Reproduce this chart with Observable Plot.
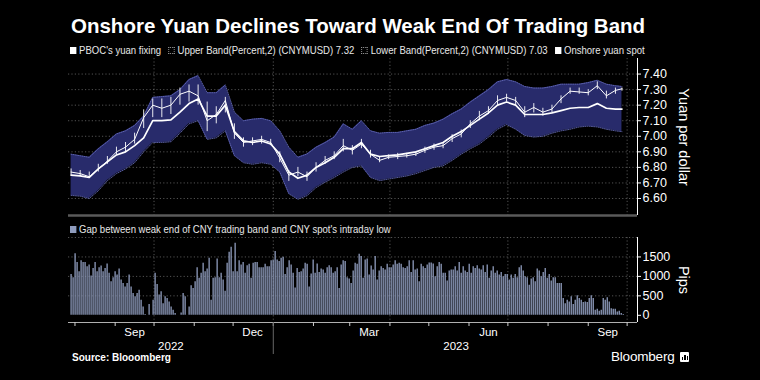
<!DOCTYPE html>
<html><head><meta charset="utf-8">
<script src="https://cdn.jsdelivr.net/npm/d3@7"></script>
<script src="https://cdn.jsdelivr.net/npm/@observablehq/plot@0.6"></script>
<style>
html,body{margin:0;padding:0;background:#000;}
#wrap{position:relative;width:760px;height:380px;overflow:hidden;background:#000;font-family:"Liberation Sans",Arial,sans-serif;color:#fff;}
.abs{position:absolute;}
#title{left:71px;top:14px;font-size:20.5px;font-weight:bold;white-space:nowrap;}
.legend{font-size:10.5px;color:#e8e8e8;white-space:nowrap;display:flex;align-items:center;height:14px;transform:scaleX(0.91);transform-origin:0 50%;}
.item{display:inline-flex;align-items:center;margin-right:8px;}
.sw{display:inline-block;width:7px;height:7px;margin-right:3px;box-sizing:border-box;}
.solid{background:#fff;}
.hollow{border:1px dotted #9a9a9a;}
#source{left:72px;top:352px;font-size:10px;font-weight:bold;color:#fff;}
#logo{left:611px;top:349px;font-size:13.5px;color:#fff;display:flex;align-items:center;letter-spacing:-0.2px;}
#logo .ic{display:inline-block;width:9px;height:10px;margin-left:5px;background:#fff;border-radius:1px;position:relative;}
#logo .ic i{position:absolute;bottom:2px;width:1.5px;background:#000;}
</style></head>
<body><div id="wrap">
<div id="title" class="abs">Onshore Yuan Declines Toward Weak End Of Trading Band</div>
<div id="leg1" class="abs legend" style="left:70px;top:43px;">
  <span class="item"><span class="sw solid"></span>PBOC's yuan fixing</span>
  <span class="item"><span class="sw hollow"></span>Upper Band(Percent,2) (CNYMUSD) 7.32</span>
  <span class="item"><span class="sw hollow"></span>Lower Band(Percent,2) (CNYMUSD) 7.03</span>
  <span class="item"><span class="sw solid"></span>Onshore yuan spot</span>
</div>
<div id="top" class="abs" style="left:0;top:58px;"></div>
<div id="leg2" class="abs legend" style="left:70px;top:222px;">
  <span class="item"><span class="sw" style="background:#8f9cbd"></span>Gap between weak end of CNY trading band and CNY spot's intraday low</span>
</div>
<div id="bottom" class="abs" style="left:0;top:234px;"></div>
<div id="source" class="abs">Source: Blooomberg</div>
<div id="logo" class="abs">Bloomberg<span class="ic"><i style="left:2px;height:3px"></i><i style="left:4.5px;height:5px"></i><i style="left:7px;height:4px;width:1px"></i></span></div>
</div>
<script>
// ---- data ----
const weekDates = ["2022-07-29","2022-08-05","2022-08-12","2022-08-19","2022-08-26","2022-09-02","2022-09-09","2022-09-16","2022-09-23","2022-09-30","2022-10-07","2022-10-14","2022-10-21","2022-10-28","2022-11-04","2022-11-11","2022-11-18","2022-11-25","2022-12-02","2022-12-09","2022-12-16","2022-12-23","2022-12-30","2023-01-06","2023-01-13","2023-01-20","2023-01-27","2023-02-03","2023-02-10","2023-02-17","2023-02-24","2023-03-03","2023-03-10","2023-03-17","2023-03-24","2023-03-31","2023-04-07","2023-04-14","2023-04-21","2023-04-28","2023-05-05","2023-05-12","2023-05-19","2023-05-26","2023-06-02","2023-06-09","2023-06-16","2023-06-23","2023-06-30","2023-07-07","2023-07-14","2023-07-21","2023-07-28","2023-08-04","2023-08-11","2023-08-18","2023-08-25","2023-09-01","2023-09-08","2023-09-15","2023-09-22","2023-09-27"];
const upperBand = [6.885,6.875,6.865,6.92,6.965,7.015,7.035,7.07,7.13,7.25,7.255,7.26,7.30,7.365,7.39,7.28,7.28,7.33,7.155,7.10,7.11,7.115,7.10,7.035,6.93,6.865,6.886,6.93,6.96,6.995,7.08,7.045,7.10,7.035,7.02,7.025,7.025,7.035,7.045,7.07,7.085,7.11,7.145,7.175,7.22,7.26,7.30,7.35,7.365,7.35,7.32,7.31,7.31,7.32,7.335,7.335,7.335,7.345,7.36,7.335,7.325,7.32];
const lowerBand = [6.62,6.615,6.60,6.65,6.715,6.76,6.79,6.83,6.90,6.96,6.96,6.965,7.02,7.08,7.10,6.98,6.99,7.035,6.875,6.83,6.82,6.83,6.82,6.77,6.63,6.595,6.618,6.67,6.705,6.735,6.77,6.80,6.81,6.735,6.715,6.725,6.735,6.745,6.76,6.78,6.80,6.81,6.845,6.885,6.92,6.95,6.995,7.045,7.075,7.045,7.005,6.995,7.00,7.02,7.035,7.045,7.06,7.065,7.06,7.045,7.035,7.03];
const fixing = [6.75,6.745,6.735,6.79,6.835,6.88,6.90,6.94,6.99,7.10,7.10,7.105,7.155,7.21,7.24,7.13,7.13,7.20,7.03,6.97,6.96,6.97,6.95,6.885,6.77,6.73,6.75,6.80,6.83,6.865,6.92,6.92,6.96,6.885,6.87,6.875,6.88,6.89,6.90,6.92,6.94,6.96,7.00,7.03,7.07,7.11,7.15,7.20,7.22,7.20,7.14,7.14,7.14,7.15,7.165,7.18,7.185,7.185,7.21,7.18,7.175,7.175];
const spot = [6.77,6.76,6.74,6.79,6.84,6.90,6.93,6.98,7.12,7.20,7.18,7.20,7.27,7.29,7.26,7.10,7.14,7.23,7.02,6.96,6.97,6.98,6.96,6.86,6.75,6.77,6.74,6.80,6.845,6.875,6.94,6.91,6.95,6.885,6.845,6.865,6.87,6.875,6.885,6.91,6.93,6.94,6.985,7.015,7.08,7.13,7.165,7.23,7.25,7.23,7.155,7.185,7.155,7.175,7.24,7.29,7.285,7.28,7.325,7.26,7.295,7.305];
const spotHigh = [6.79,6.78,6.77,6.82,6.87,6.93,6.96,7.02,7.17,7.24,7.24,7.25,7.31,7.33,7.33,7.22,7.19,7.25,7.08,6.99,6.99,7.00,6.98,6.90,6.78,6.80,6.77,6.83,6.87,6.90,6.98,6.94,6.98,6.91,6.87,6.88,6.89,6.89,6.90,6.93,6.95,6.96,7.01,7.04,7.10,7.16,7.19,7.26,7.27,7.25,7.19,7.21,7.18,7.20,7.26,7.31,7.31,7.30,7.35,7.29,7.31,7.31];
const spotLow = [6.75,6.74,6.73,6.77,6.82,6.88,6.90,6.95,7.05,7.12,7.12,7.14,7.20,7.22,7.20,7.03,7.08,7.15,6.98,6.93,6.94,6.95,6.94,6.83,6.71,6.74,6.71,6.77,6.82,6.85,6.90,6.88,6.92,6.86,6.83,6.85,6.85,6.86,6.87,6.89,6.91,6.92,6.96,6.99,7.05,7.10,7.14,7.20,7.22,7.20,7.12,7.15,7.13,7.15,7.21,7.27,7.27,7.26,7.30,7.24,7.27,7.29];
const gapPips = [
1050,965,1580,1360,1120,1400,1360,1360,1250,1290,1010,1205,1360,1120,1225,1270,1120,1205,1320,1080,
860,965,1120,1035,1190,905,820,730,820,1035,730,560,475,560,645,390,215,20,0,275,
0,390,1080,790,520,605,300,475,430,345,215,130,45,0,0,60,560,475,0,215,
760,690,860,1225,950,1080,1335,1120,1190,1465,390,950,965,1450,965,1080,905,620,1335,1620,
1750,1120,1850,1120,1400,1290,1360,1080,1275,1310,950,1335,1360,
1360,1225,1225,1225,1310,1250,1250,1400,1420,1640,1420,1380,1465,1490,1050,1225,1400,1290,1080,705,
1205,1100,1120,1190,1335,1310,730,1060,1420,1080,1320,1100,1190,1165,1080,1225,1275,1225,1080,1120,
1225,690,1290,1400,1380,965,930,820,1140,1335,1310,1570,1510,950,1420,1450,1035,1270,1165,1510,
905,1140,1250,1205,1165,1310,1225,1225,1290,1400,1310,1335,1310,1225,1205,1250,1400,1100,1400,1165,
1190,860,1310,1250,1205,1290,1345,1345,1320,990,1250,1360,1310,
1080,1080,880,1140,1165,1165,1250,1140,1360,1080,1250,1140,1100,1310,1080,1250,1205,1275,1190,1165,
1275,1100,1290,950,1140,1250,1080,1140,1035,1100,990,1050,1050,905,1035,950,1050,965,1225,1275,
1140,990,965,775,930,965,860,1190,1140,990,1100,1205,950,1050,880,965,965,820,820,820,
430,300,390,345,475,275,390,500,430,390,330,345,330,430,500,430,130,155,105,130,
430,390,450,345,170,155,155,85,105,45,20];
const gapFirstDate = "2022-07-29";
const gapLastDate = "2023-09-28";
const yuanTicks = [6.6,6.7,6.8,6.9,7.0,7.1,7.2,7.3,7.4];
const pipTicks = [0,500,1000,1500];
const pipGrid = [500,1000,1500,2000];
const quarterStarts = ["2022-10-01","2023-01-01","2023-04-01","2023-07-01","2023-10-01"];
const monthStarts = ["2022-08-01","2022-09-01","2022-10-01","2022-11-01","2022-12-01","2023-01-01","2023-02-01","2023-03-01","2023-04-01","2023-05-01","2023-06-01","2023-07-01","2023-08-01","2023-09-01","2023-10-01"];
const monthLabels = ["2022-09-16","2022-12-16","2023-03-16","2023-06-16","2023-09-16"];
const yearLabels = ["2022-10-14","2023-05-22"];
const yearDivider = ["2023-01-01"];

// ---- build ----
const D = s => new Date(s);
const rows = weekDates.map((d,i)=>({date:D(d), upper:upperBand[i], lower:lowerBand[i], fix:fixing[i], spot:spot[i], hi:spotHigh[i], lo:spotLow[i]}));
const g0 = D(gapFirstDate), g1 = D(gapLastDate);
const gapRows = gapPips.map((v,i)=>({date:new Date(+g0 + (g1-g0)*i/(gapPips.length-1)), v}));
const xDomain = [D("2022-07-27"), D("2023-10-09")];
const font = '"Liberation Sans", Arial, sans-serif';
const gridStyle = {stroke:"#8a8a8a", strokeOpacity:0.75, strokeDasharray:"1.2,2.2", strokeWidth:0.8};
const yMin = 6.4907;

const topChart = Plot.plot({
  width:760, height:160, marginLeft:68, marginRight:123, marginTop:0, marginBottom:3,
  style:{background:"transparent", color:"#fff", fontFamily:font, fontSize:"12px", overflow:"visible"},
  x:{type:"utc", domain:xDomain, axis:null},
  y:{domain:[yMin,7.5]},
  marks:[
    Plot.gridY(yuanTicks, gridStyle),
    Plot.gridX(quarterStarts.map(D), gridStyle),
    Plot.areaY(rows, {x:"date", y1:"lower", y2:"upper", fill:"#282b6b"}),
    Plot.line(rows, {x:"date", y:"upper", stroke:"#6a70c0", strokeWidth:0.8, strokeDasharray:"1,1.2"}),
    Plot.line(rows, {x:"date", y:"lower", stroke:"#6a70c0", strokeWidth:0.8, strokeDasharray:"1,1.2"}),
    Plot.ruleX(rows, {x:"date", y1:"lo", y2:"hi", stroke:"#fff", strokeWidth:0.9}),
    Plot.line(rows, {x:"date", y:"spot", stroke:"#fff", strokeWidth:1}),
    Plot.line(rows, {x:"date", y:"fix", stroke:"#fff", strokeWidth:1.7}),
    Plot.ruleY([yMin], {stroke:"#5a5a5a", strokeWidth:2.5}),
    Plot.ruleX([xDomain[1]], {stroke:"#fff", strokeWidth:1}),
    Plot.axisY(yuanTicks, {anchor:"right", tickSize:3, tickPadding:2, tickFormat:d=>d.toFixed(2), stroke:"#fff", fill:"#fff", fontSize:12.5, label:null}),
    Plot.text(["Yuan per dollar"], {text:d=>d, frameAnchor:"right", textAnchor:"middle", dx:46, rotate:90, fill:"#fff", fontSize:14.5})
  ]
});
document.getElementById("top").append(topChart);

const bottomChart = Plot.plot({
  width:760, height:122, marginLeft:68, marginRight:123, marginTop:3, marginBottom:34,
  style:{background:"transparent", color:"#fff", fontFamily:font, fontSize:"12px", overflow:"visible"},
  x:{type:"utc", domain:xDomain, label:null},
  y:{domain:[-185,2000], label:null},
  marks:[
    Plot.gridY(pipGrid, gridStyle),
    Plot.gridX(quarterStarts.map(D), gridStyle),
    Plot.ruleX(gapRows, {x:"date", y1:0, y2:"v", stroke:"#8f9cbd", strokeWidth:1.3}),
    Plot.ruleY([-185], {stroke:"#b0b0b0", strokeWidth:1}),
    Plot.ruleX([xDomain[1]], {stroke:"#fff", strokeWidth:1}),
    Plot.axisY(pipTicks, {anchor:"right", tickSize:3, tickPadding:2, tickFormat:d=>String(d), stroke:"#fff", fill:"#fff", fontSize:12.5, label:null}),
    Plot.axisX(monthStarts.map(D), {tickSize:4, tickFormat:()=>"", stroke:"#ccc", label:null}),
    Plot.axisX(yearDivider.map(D), {tickSize:32, tickFormat:()=>"", stroke:"#666", label:null}),
    Plot.axisX(monthLabels.map(D), {tickSize:0, tickPadding:5, tickFormat:d3.utcFormat("%b"), fill:"#fff", fontSize:11.5, label:null}),
    Plot.axisX(yearLabels.map(D), {tickSize:0, tickPadding:19, tickFormat:d3.utcFormat("%Y"), fill:"#fff", fontSize:11.5, label:null}),
    Plot.text(["Pips"], {text:d=>d, frameAnchor:"right", textAnchor:"middle", dx:46, rotate:90, fill:"#fff", fontSize:14.5})
  ]
});
document.getElementById("bottom").append(bottomChart);
</script>
</body></html>
